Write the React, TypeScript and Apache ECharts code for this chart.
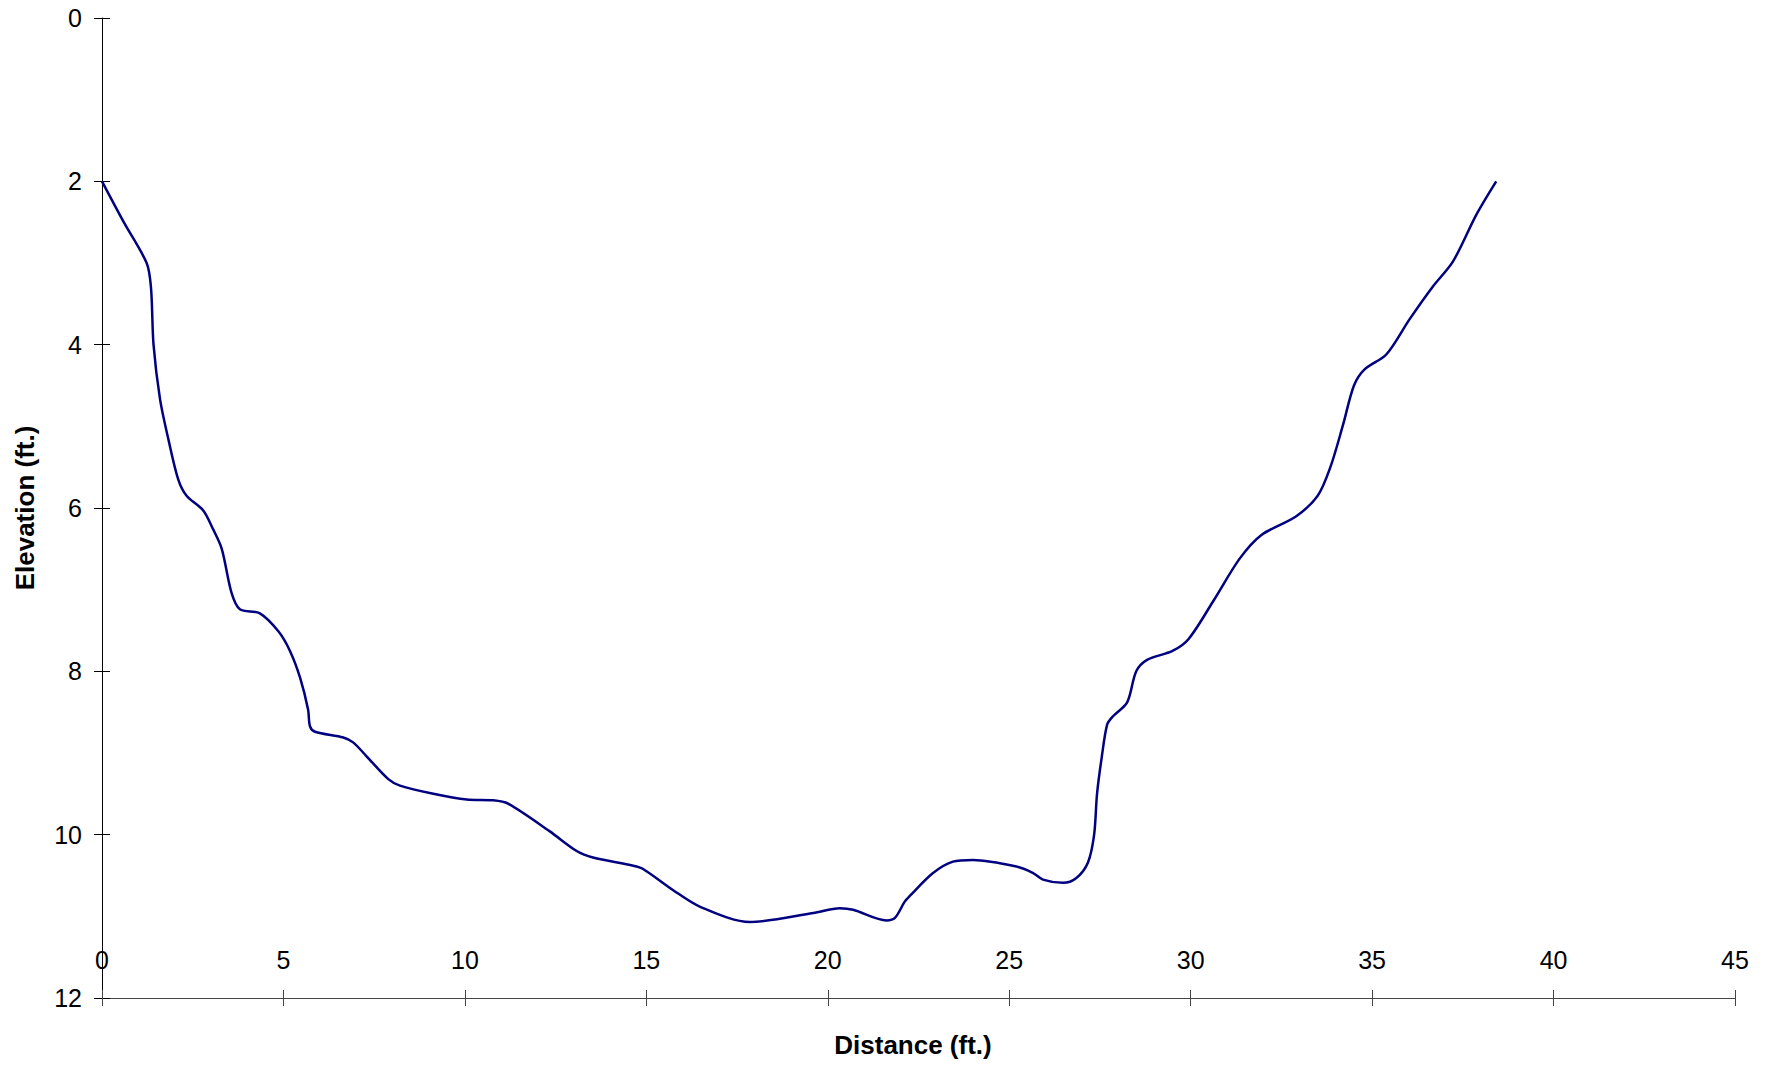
import React, { useEffect, useRef } from "react";
import * as echarts from "echarts";

const distance = [
  0, 0.6, 1.23, 1.35, 1.42, 1.6, 1.83, 2.1, 2.33, 2.79, 3.05, 3.3, 3.57, 3.8,
  4.35, 4.86, 5.18, 5.46, 5.68, 5.73, 5.87, 6.65, 6.92, 7.29, 7.89, 8.21, 9.13,
  10.05, 10.78, 11.19, 12.34, 13.08, 13.53, 14.64, 14.91, 15.74, 16.47, 17.85,
  19.6, 20.33, 20.7, 21.62, 21.85, 22.12, 22.26, 22.9, 23.45, 24.0, 25.2, 25.66,
  25.93, 26.48, 26.85, 27.17, 27.34, 27.42, 27.55, 27.7, 27.86, 28.25, 28.5,
  28.8, 29.5, 29.95, 30.65, 31.35, 31.95, 32.91, 33.5, 33.85, 34.2, 34.5, 34.8,
  35.39, 36.03, 36.67, 37.23, 37.87, 38.42,
];
const elevation = [
  2.0, 2.5, 3.0, 3.3, 4.0, 4.67, 5.16, 5.65, 5.85, 6.03, 6.25, 6.5, 7.04, 7.24,
  7.29, 7.51, 7.75, 8.08, 8.47, 8.67, 8.74, 8.81, 8.87, 9.04, 9.32, 9.4, 9.5,
  9.57, 9.58, 9.62, 9.96, 10.2, 10.28, 10.38, 10.42, 10.68, 10.88, 11.07, 10.96,
  10.9, 10.92, 11.05, 11.02, 10.82, 10.75, 10.47, 10.33, 10.31, 10.39, 10.47,
  10.55, 10.59, 10.53, 10.34, 10.0, 9.5, 9.05, 8.65, 8.55, 8.38, 8.0, 7.86,
  7.75, 7.6, 7.12, 6.62, 6.33, 6.1, 5.85, 5.5, 4.98, 4.5, 4.3, 4.12, 3.69, 3.29,
  2.98, 2.41, 2.0,
];

const xTitle = "Distance (ft.)";
const yTitle = "Elevation (ft.)";

const FONT = "Liberation Sans, Arial, sans-serif";

export default function App() {
  const ref = useRef<HTMLDivElement>(null);
  useEffect(() => {
    if (!ref.current) return;
    const chart = echarts.init(ref.current, null, { renderer: "svg" });
    const data = distance.map((d, i) => [d, elevation[i]]);
    const gridLeft = 102;
    const gridRight = 40;
    const gridTop = 18;
    const gridBottom = 67;
    const gridW = 1775 - gridLeft - gridRight;
    const gridH = 1065 - gridTop - gridBottom;
    chart.setOption({
      animation: false,
      backgroundColor: "#ffffff",
      grid: { left: gridLeft, right: gridRight, top: gridTop, bottom: gridBottom },
      xAxis: [
        {
          type: "value",
          min: 0,
          max: 45,
          interval: 5,
          position: "bottom",
          name: xTitle,
          nameLocation: "middle",
          nameGap: 34,
          nameTextStyle: {
            fontFamily: FONT,
            fontSize: 26,
            fontWeight: "bold",
            color: "#000",
            padding: [0, 11, 0, 0],
          },
          axisLine: { show: true, onZero: false, lineStyle: { color: "#444", width: 1 } },
          axisTick: { show: true, inside: false, length: 8, lineStyle: { color: "#444" } },
          axisLabel: {
            inside: true,
            margin: 26,
            fontFamily: FONT,
            fontSize: 25,
            color: "#000",
          },
          splitLine: { show: false },
        },
        {
          type: "value",
          min: 0,
          max: 45,
          interval: 5,
          position: "top",
          offset: -gridH,
          axisLine: { show: false, onZero: false },
          axisTick: { show: true, inside: false, length: 8, lineStyle: { color: "#444" } },
          axisLabel: { show: false },
          splitLine: { show: false },
        },
      ],
      yAxis: [
        {
          type: "value",
          inverse: true,
          min: 0,
          max: 12,
          interval: 2,
          position: "left",
          name: yTitle,
          nameLocation: "middle",
          nameGap: 64,
          nameRotate: 90,
          nameTextStyle: {
            fontFamily: FONT,
            fontSize: 26,
            fontWeight: "bold",
            color: "#000",
          },
          axisLine: { show: true, onZero: false, lineStyle: { color: "#000", width: 1 } },
          axisTick: { show: true, inside: false, length: 8, lineStyle: { color: "#000" } },
          axisLabel: {
            margin: 20,
            fontFamily: FONT,
            fontSize: 25,
            color: "#000",
          },
          splitLine: { show: false },
        },
        {
          type: "value",
          inverse: true,
          min: 0,
          max: 12,
          interval: 2,
          position: "right",
          offset: -gridW,
          axisLine: { show: false, onZero: false },
          axisTick: { show: true, inside: false, length: 8, lineStyle: { color: "#000" } },
          axisLabel: { show: false },
          splitLine: { show: false },
        },
      ],
      series: [
        {
          type: "line",
          xAxisIndex: 0,
          yAxisIndex: 0,
          data,
          smooth: 0.3,
          showSymbol: false,
          symbol: "none",
          lineStyle: { color: "#000080", width: 2.5 },
        },
      ],
    });
    return () => chart.dispose();
  }, []);
  return (
    <div
      ref={ref}
      style={{ position: "absolute", left: 0, top: 0, width: 1775, height: 1065 }}
    />
  );
}
